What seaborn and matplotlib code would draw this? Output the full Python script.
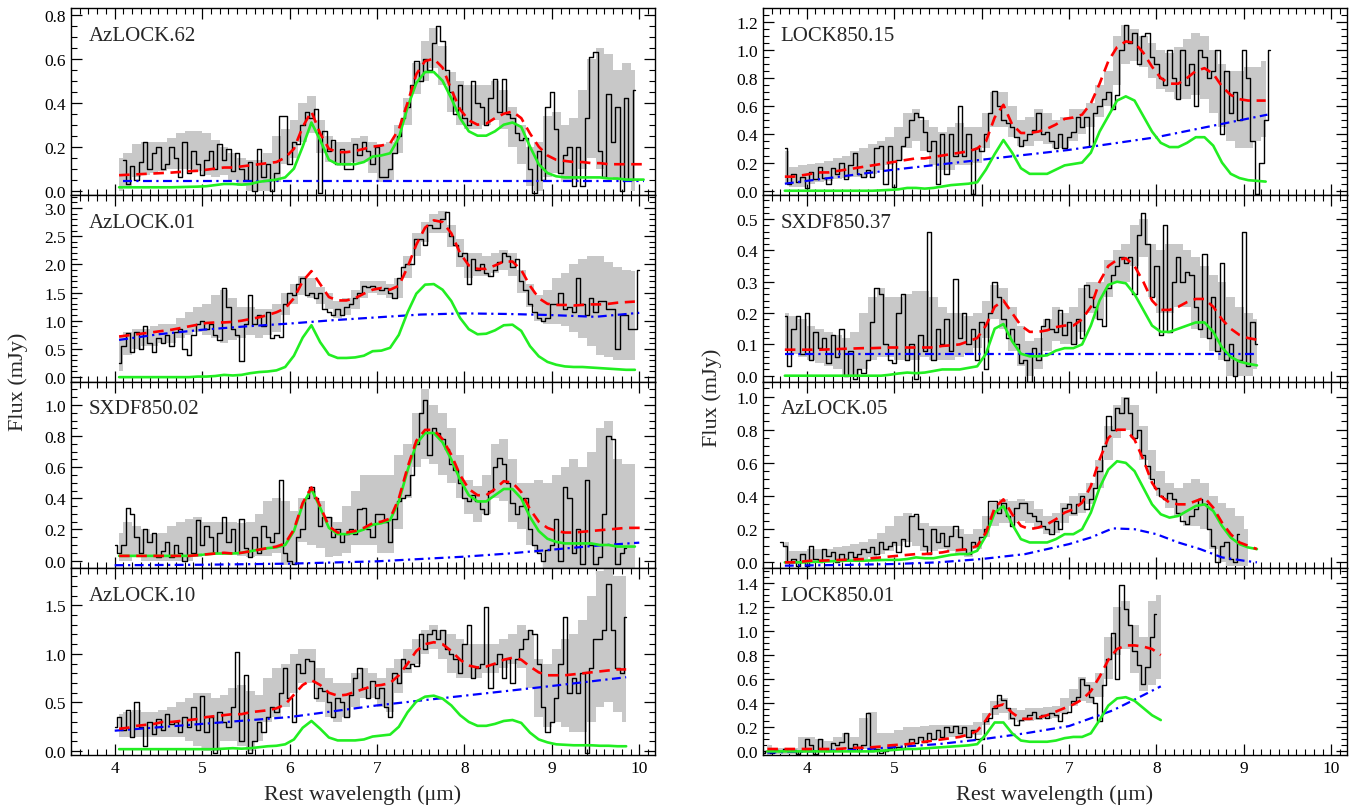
import numpy as np
import seaborn as sns
import matplotlib.pyplot as plt
from matplotlib.ticker import MultipleLocator, AutoMinorLocator, FormatStrFormatter

# ---- data (flux in mJy, wavelength in micron) ----
# spectra are binned at 0.05 um, band / model curves sampled at 0.1 um

# AzLOCK.62
az62_start = 4.10
az62_flux = [0.14, 0.03, 0.11, 0.05, 0.13, 0.22, 0.10, 0.17, 0.20, 0.10,
             0.12, 0.20, 0.15, 0.06, 0.22, 0.08, 0.18, 0.12, 0.07, 0.14,
             0.18, 0.10, 0.21, 0.14, 0.19, 0.09, 0.17, 0.10, 0.05, 0.13,
             0.00, 0.19, 0.06, 0.12, 0.00, 0.08, 0.34, 0.34, 0.12, 0.22,
             0.21, 0.30, 0.36, 0.33, 0.37, -0.01, 0.27, 0.18, 0.23, 0.12,
             0.19, 0.10, 0.10, 0.21, 0.16, 0.22, 0.18, 0.12, 0.20, 0.06,
             0.06, 0.10, 0.17, 0.25, 0.33, 0.38, 0.48, 0.59, 0.50, 0.60,
             0.55, 0.67, 0.75, 0.68, 0.55, 0.45, 0.35, 0.48, 0.33, 0.30,
             0.50, 0.40, 0.38, 0.30, 0.42, 0.51, 0.36, 0.51, 0.35, 0.33,
             0.26, 0.23, 0.24, 0.10, -0.01, 0.18, 0.05, 0.38, 0.45, 0.28,
             0.08, 0.16, 0.20, 0.02, 0.20, 0.02, 0.33, 0.61, 0.63, 0.18,
             0.06, 0.44, 0.22, 0.38, 0.00, 0.42, 0.05, 0.46]
az62_mstart = 4.05
az62_band = [(0.00, 0.15), (0.02, 0.17), (0.06, 0.21), (0.07, 0.22), (0.08, 0.22), (0.09, 0.22), (0.10, 0.24), (0.10, 0.26), (0.10, 0.27), (0.09, 0.27),
             (0.07, 0.26), (0.06, 0.23), (0.07, 0.20), (0.05, 0.17), (0.02, 0.15), (0.00, 0.14), (0.00, 0.14), (0.00, 0.17), (0.04, 0.25), (0.12, 0.28),
             (0.15, 0.32), (0.22, 0.40), (0.26, 0.43), (0.17, 0.32), (0.13, 0.25), (0.12, 0.22), (0.11, 0.22), (0.13, 0.24), (0.13, 0.25), (0.08, 0.22),
             (0.04, 0.21), (0.05, 0.22), (0.17, 0.30), (0.30, 0.42), (0.44, 0.58), (0.50, 0.68), (0.56, 0.74), (0.48, 0.66), (0.36, 0.54), (0.30, 0.50),
             (0.28, 0.48), (0.28, 0.48), (0.30, 0.48), (0.32, 0.50), (0.28, 0.46), (0.20, 0.38), (0.12, 0.30), (0.02, 0.20), (0.00, 0.22), (0.06, 0.34),
             (0.08, 0.36), (0.04, 0.30), (0.05, 0.33), (0.10, 0.46), (0.15, 0.60), (0.10, 0.65), (0.06, 0.62), (0.05, 0.55), (0.04, 0.58), (0.00, 0.55)]
az62_total = [0.07, 0.072, 0.074, 0.076, 0.078, 0.08, 0.082, 0.085, 0.088, 0.09,
              0.095, 0.10, 0.105, 0.105, 0.11, 0.115, 0.12, 0.125, 0.13, 0.15,
              0.19, 0.29, 0.36, 0.26, 0.19, 0.175, 0.175, 0.18, 0.19, 0.20,
              0.205, 0.215, 0.28, 0.40, 0.53, 0.59, 0.60, 0.56, 0.46, 0.37,
              0.32, 0.30, 0.305, 0.33, 0.35, 0.36, 0.33, 0.26, 0.20, 0.16,
              0.14, 0.135, 0.13, 0.13, 0.125, 0.125, 0.12, 0.12, 0.12, 0.12, 0.12]
az62_pah = [0.015, 0.015, 0.015, 0.015, 0.015, 0.015, 0.015, 0.016, 0.017, 0.018,
            0.02, 0.025, 0.03, 0.03, 0.027, 0.03, 0.04, 0.045, 0.05, 0.06,
            0.10, 0.20, 0.31, 0.23, 0.14, 0.12, 0.12, 0.12, 0.13, 0.155,
            0.16, 0.17, 0.24, 0.38, 0.49, 0.54, 0.54, 0.50, 0.42, 0.33,
            0.27, 0.25, 0.25, 0.27, 0.30, 0.31, 0.29, 0.20, 0.12, 0.08,
            0.065, 0.06, 0.06, 0.06, 0.06, 0.06, 0.055, 0.055, 0.05, 0.05, 0.05]
az62_cont_wave = [4.1, 10.05]
az62_cont = [0.045, 0.045]

# AzLOCK.01
az01_start = 4.05
az01_flux = [0.25, 0.55, 0.78, 0.45, 0.80, 0.50, 0.90, 0.60, 0.45, 0.70,
             0.60, 0.75, 0.55, 0.80, 0.85, 0.50, 0.40, 0.75, 0.95, 1.00,
             0.85, 0.95, 0.75, 0.65, 1.58, 1.25, 0.85, 0.75, 0.28, 0.95,
             1.45, 0.95, 1.10, 0.90, 1.15, 0.70, 0.75, 0.72, 1.30, 1.50,
             1.45, 1.65, 1.75, 1.45, 1.50, 1.40, 1.50, 1.20, 1.15, 1.10,
             1.20, 1.10, 1.25, 1.30, 1.40, 1.50, 1.62, 1.60, 1.62, 1.58,
             1.55, 1.58, 1.50, 1.40, 1.75, 1.95, 2.00, 2.00, 2.45, 2.45,
             2.35, 2.70, 2.65, 2.65, 2.80, 2.92, 2.50, 2.35, 2.15, 2.20,
             1.65, 2.10, 1.90, 2.00, 1.85, 1.80, 1.90, 2.05, 2.20, 2.15,
             1.95, 2.10, 1.70, 1.55, 1.30, 1.15, 1.05, 1.00, 1.05, 1.30,
             1.30, 1.50, 1.20, 1.25, 1.15, 1.75, 1.30, 1.10, 1.40, 1.15,
             1.35, 1.35, 1.20, 1.20, 0.50, 1.10, 1.10, 0.85, 0.85, 1.90]
az01_mstart = 4.05
az01_band = [(0.10, 0.75), (0.40, 0.80), (0.50, 0.85), (0.55, 0.85), (0.55, 0.90), (0.60, 0.95), (0.60, 0.95), (0.70, 1.05), (0.75, 1.15), (0.80, 1.25),
             (0.75, 1.30), (0.70, 1.45), (0.60, 1.55), (0.65, 1.40), (0.70, 1.25), (0.75, 1.25), (0.70, 1.20), (0.75, 1.20), (0.80, 1.30), (1.10, 1.50),
             (1.30, 1.65), (1.45, 1.80), (1.40, 1.75), (1.30, 1.60), (1.20, 1.50), (1.05, 1.35), (1.10, 1.40), (1.20, 1.55), (1.40, 1.70), (1.50, 1.70),
             (1.45, 1.70), (1.40, 1.65), (1.40, 1.75), (1.75, 2.15), (2.15, 2.55), (2.40, 2.75), (2.55, 2.90), (2.55, 2.95), (2.30, 2.70), (1.95, 2.45),
             (1.75, 2.20), (1.80, 2.20), (1.80, 2.15), (1.85, 2.20), (1.90, 2.25), (1.80, 2.20), (1.50, 1.90), (1.25, 1.65), (1.00, 1.45), (0.95, 1.55),
             (0.95, 1.75), (0.90, 1.85), (0.80, 2.00), (0.70, 2.10), (0.55, 2.15), (0.40, 2.15), (0.35, 2.05), (0.30, 1.95), (0.30, 1.90), (0.30, 1.88)]
az01_total = [0.72, 0.74, 0.76, 0.78, 0.80, 0.82, 0.84, 0.87, 0.90, 0.93,
              0.96, 0.97, 0.97, 0.98, 1.00, 1.03, 1.06, 1.10, 1.15, 1.22,
              1.40, 1.70, 1.88, 1.65, 1.42, 1.36, 1.36, 1.40, 1.48, 1.55,
              1.58, 1.55, 1.62, 1.95, 2.35, 2.65, 2.78, 2.75, 2.55, 2.20,
              1.98, 1.92, 1.92, 1.98, 2.05, 2.05, 1.90, 1.62, 1.40, 1.30,
              1.28, 1.28, 1.27, 1.28, 1.29, 1.29, 1.30, 1.32, 1.33, 1.34]
az01_pah = [0.00, 0.00, 0.00, 0.00, 0.00, 0.00, 0.00, 0.00, 0.00, 0.01,
            0.01, 0.02, 0.04, 0.03, 0.04, 0.07, 0.09, 0.10, 0.12, 0.18,
            0.38, 0.70, 0.92, 0.62, 0.40, 0.34, 0.34, 0.35, 0.38, 0.46,
            0.47, 0.52, 0.75, 1.15, 1.48, 1.64, 1.65, 1.55, 1.35, 1.05,
            0.85, 0.76, 0.77, 0.83, 0.92, 0.93, 0.82, 0.55, 0.37, 0.27,
            0.22, 0.19, 0.18, 0.18, 0.17, 0.16, 0.15, 0.14, 0.13, 0.13]
az01_cont_wave = [4.05, 4.5, 5.0, 5.5, 6.0, 6.5, 7.0, 7.5, 8.0, 8.5, 9.0, 9.5, 10.0]
az01_cont = [0.66, 0.76, 0.84, 0.90, 0.95, 1.01, 1.06, 1.11, 1.13, 1.12, 1.10, 1.07, 1.14]

# SXDF850.02
sx02_start = 4.00
sx02_flux = [0.10, 0.05, 0.10, 0.34, 0.30, 0.15, 0.05, 0.20, 0.12, 0.18,
             0.02, 0.06, 0.12, 0.02, 0.10, 0.05, 0.00, 0.15, 0.05, 0.26,
             0.10, 0.22, 0.15, 0.05, 0.18, 0.28, 0.12, 0.20, 0.05, 0.27,
             0.08, 0.02, 0.15, 0.05, 0.22, 0.15, 0.12, 0.18, 0.52, 0.05,
             0.00, -0.02, 0.15, 0.20, 0.40, 0.47, 0.40, 0.22, 0.28, 0.28,
             0.15, 0.20, 0.12, 0.17, 0.20, 0.17, 0.33, 0.34, 0.20, 0.15,
             0.30, 0.30, 0.25, 0.12, 0.27, 0.38, 0.40, 0.42, 0.55, 0.75,
             0.95, 1.03, 0.68, 0.85, 0.82, 0.78, 0.72, 0.62, 0.58, 0.50,
             0.40, 0.38, 0.42, 0.38, 0.33, 0.30, 0.45, 0.60, 0.66, 0.62,
             0.50, 0.37, 0.30, 0.35, 0.40, 0.20, 0.10, 0.05, 0.00, 0.07,
             0.10, 0.27, 0.00, 0.47, 0.40, 0.05, 0.20, -0.02, 0.52, 0.10,
             -0.02, 0.02, 0.30, 0.80, 0.78, -0.02, 0.05, 0.08]
sx02_mstart = 4.05
sx02_band = [(0.00, 0.18), (0.00, 0.25), (0.02, 0.22), (0.00, 0.20), (0.00, 0.17), (0.00, 0.18), (0.00, 0.22), (0.00, 0.25), (0.00, 0.27), (0.02, 0.28),
             (0.05, 0.25), (0.05, 0.25), (0.05, 0.25), (0.05, 0.25), (0.03, 0.24), (0.02, 0.25), (0.03, 0.30), (0.03, 0.38), (0.05, 0.40), (-0.03, 0.38),
             (-0.03, 0.32), (0.12, 0.40), (0.10, 0.45), (0.08, 0.38), (0.02, 0.28), (0.03, 0.25), (0.05, 0.35), (0.10, 0.45), (0.10, 0.55), (0.10, 0.55),
             (0.05, 0.55), (0.05, 0.55), (0.20, 0.68), (0.40, 0.75), (0.60, 0.95), (0.65, 1.10), (0.62, 1.00), (0.55, 0.95), (0.50, 0.85), (0.40, 0.68),
             (0.30, 0.52), (0.25, 0.48), (0.30, 0.55), (0.40, 0.75), (0.38, 0.78), (0.25, 0.65), (0.20, 0.50), (0.10, 0.50), (0.05, 0.52), (-0.06, 0.50),
             (-0.06, 0.55), (-0.06, 0.60), (-0.06, 0.65), (-0.06, 0.60), (-0.06, 0.70), (-0.06, 0.85), (-0.06, 0.90), (-0.06, 0.65), (-0.06, 0.62), (-0.06, 0.62)]
sx02_total = [0.03, 0.03, 0.03, 0.03, 0.03, 0.03, 0.03, 0.03, 0.03, 0.035,
              0.04, 0.045, 0.05, 0.045, 0.05, 0.06, 0.07, 0.08, 0.09, 0.11,
              0.20, 0.37, 0.47, 0.35, 0.22, 0.18, 0.18, 0.19, 0.21, 0.24,
              0.25, 0.27, 0.40, 0.60, 0.77, 0.84, 0.84, 0.78, 0.68, 0.55,
              0.46, 0.42, 0.42, 0.46, 0.51, 0.50, 0.44, 0.33, 0.25, 0.21,
              0.19, 0.18, 0.18, 0.185, 0.19, 0.195, 0.20, 0.205, 0.21, 0.21, 0.21]
sx02_pah = [0.03, 0.03, 0.03, 0.03, 0.03, 0.03, 0.03, 0.03, 0.03, 0.035,
            0.04, 0.045, 0.045, 0.045, 0.05, 0.06, 0.07, 0.08, 0.085, 0.10,
            0.19, 0.36, 0.46, 0.34, 0.21, 0.17, 0.17, 0.18, 0.20, 0.23,
            0.24, 0.26, 0.38, 0.58, 0.75, 0.82, 0.82, 0.76, 0.65, 0.52,
            0.42, 0.38, 0.38, 0.42, 0.46, 0.46, 0.40, 0.28, 0.19, 0.14,
            0.12, 0.11, 0.11, 0.11, 0.11, 0.10, 0.10, 0.09, 0.09, 0.09]
sx02_cont_wave = [4.0, 5.0, 6.0, 7.0, 8.0, 8.5, 9.0, 9.5, 10.0]
sx02_cont = [-0.03, -0.027, -0.02, -0.005, 0.025, 0.045, 0.07, 0.095, 0.115]

# AzLOCK.10
az10_start = 4.00
az10_flux = [0.25, 0.35, 0.22, 0.42, 0.15, 0.50, 0.25, 0.05, 0.30, 0.18,
             0.33, 0.22, 0.38, 0.28, 0.30, 0.20, 0.35, 0.25, 0.45, 0.22,
             0.57, 0.20, 0.35, -0.02, 0.40, 0.30, 0.25, 0.45, 1.02, 0.10,
             0.78, -0.02, 0.10, 0.30, 0.20, 0.35, 0.45, 0.40, 0.60, 0.85,
             0.55, 0.30, 0.90, 0.80, 0.95, 0.93, 0.55, 0.65, 0.62, 0.50,
             0.35, 0.55, 0.50, 0.35, 0.58, 0.75, 0.85, 0.65, 0.55, 0.72,
             0.55, 0.65, 0.45, 0.35, 0.80, 0.70, 0.95, 0.85, 0.90, 0.88,
             1.20, 1.05, 1.20, 1.25, 1.15, 1.25, 1.05, 1.00, 0.95, 0.80,
             1.10, 1.30, 0.75, 0.85, 0.90, 1.48, 0.65, 0.90, 1.00, 0.75,
             0.95, 0.70, 0.95, 1.05, 1.15, 1.25, 1.20, 0.90, 0.45, 0.20,
             0.30, 0.55, 0.90, 1.38, 0.60, 0.75, 0.60, 0.80, -0.02, 0.85,
             1.15, 1.15, 1.25, 1.72, 1.25, 0.85, 0.80, 1.38]
az10_mstart = 4.05
az10_band = [(0.15, 0.38), (0.15, 0.40), (0.15, 0.42), (0.15, 0.40), (0.15, 0.40), (0.15, 0.42), (0.15, 0.45), (0.15, 0.50), (0.10, 0.55), (0.05, 0.60),
             (0.00, 0.60), (0.00, 0.55), (0.10, 0.58), (0.10, 0.65), (0.05, 0.68), (0.00, 0.62), (0.10, 0.58), (0.30, 0.75), (0.35, 0.85), (0.45, 0.90),
             (0.60, 1.00), (0.70, 1.05), (0.70, 1.05), (0.50, 0.85), (0.35, 0.75), (0.30, 0.70), (0.35, 0.70), (0.45, 0.80), (0.55, 0.85), (0.55, 0.80),
             (0.45, 0.75), (0.40, 0.85), (0.60, 0.95), (0.80, 1.05), (0.90, 1.15), (1.00, 1.25), (1.05, 1.30), (0.95, 1.25), (0.80, 1.20), (0.75, 1.15),
             (0.75, 1.10), (0.75, 1.10), (0.80, 1.10), (0.80, 1.10), (0.85, 1.15), (0.90, 1.20), (0.85, 1.30), (0.65, 1.25), (0.35, 0.95), (0.25, 0.90),
             (0.30, 1.05), (0.25, 1.15), (0.20, 1.20), (0.20, 1.35), (0.30, 1.60), (0.45, 1.85), (0.50, 1.90), (0.40, 1.80), (0.30, 1.80)]
az10_total = [0.23, 0.24, 0.26, 0.27, 0.28, 0.30, 0.30, 0.31, 0.32, 0.33,
              0.35, 0.36, 0.37, 0.38, 0.38, 0.40, 0.41, 0.42, 0.44, 0.48,
              0.58, 0.68, 0.73, 0.68, 0.60, 0.57, 0.58, 0.61, 0.64, 0.67,
              0.68, 0.70, 0.78, 0.90, 1.03, 1.10, 1.12, 1.10, 1.03, 0.94,
              0.88, 0.86, 0.87, 0.90, 0.94, 0.96, 0.94, 0.87, 0.81, 0.78,
              0.78, 0.78, 0.79, 0.80, 0.81, 0.82, 0.83, 0.84, 0.84]
az10_pah = [0.02, 0.02, 0.02, 0.02, 0.02, 0.02, 0.02, 0.02, 0.02, 0.02,
            0.02, 0.02, 0.025, 0.03, 0.025, 0.03, 0.04, 0.05, 0.055, 0.07,
            0.12, 0.24, 0.31, 0.23, 0.14, 0.11, 0.11, 0.11, 0.12, 0.15,
            0.16, 0.17, 0.25, 0.40, 0.51, 0.56, 0.57, 0.54, 0.47, 0.37,
            0.30, 0.26, 0.26, 0.28, 0.31, 0.32, 0.29, 0.19, 0.12, 0.09,
            0.07, 0.065, 0.06, 0.06, 0.06, 0.055, 0.055, 0.05, 0.05]
az10_cont_wave = [4.0, 5.0, 6.0, 7.0, 8.0, 9.0, 9.85]
az10_cont = [0.21, 0.28, 0.35, 0.47, 0.57, 0.67, 0.76]

# LOCK850.15
l15_start = 3.75
l15_flux = [0.30, 0.05, 0.12, 0.06, 0.10, 0.02, 0.13, 0.08, 0.17, 0.09,
            0.05, 0.16, 0.12, 0.20, 0.08, 0.18, 0.27, 0.12, 0.10, 0.15,
            0.10, 0.30, 0.32, 0.05, 0.32, 0.03, 0.22, 0.32, 0.38, 0.50,
            0.55, 0.52, 0.42, 0.28, 0.35, 0.05, 0.40, 0.12, 0.40, 0.25,
            0.60, 0.25, 0.40, -0.02, 0.30, 0.28, 0.40, 0.55, 0.71, 0.60,
            0.50, 0.48, 0.45, 0.38, 0.32, 0.36, 0.40, 0.43, 0.55, 0.40,
            0.42, 0.35, 0.30, 0.40, 0.30, 0.38, 0.42, 0.52, 0.45, 0.52,
            0.32, 0.55, 0.60, 0.65, 0.70, 0.58, 0.68, 1.00, 1.18, 1.05,
            1.12, 0.90, 1.10, 1.12, 0.95, 0.90, 0.80, 0.75, 1.00, 0.80,
            0.65, 1.00, 0.75, 0.90, 0.60, 1.00, 0.95, 0.80, 0.85, 1.00,
            0.40, 0.85, 0.55, 0.70, 0.50, 1.00, 0.80, 0.35, -0.02, 0.20,
            0.50, 1.00]
l15_mstart = 3.75
l15_band = [(0.05, 0.28), (0.03, 0.17), (0.03, 0.18), (0.05, 0.19), (0.06, 0.20), (0.07, 0.21), (0.08, 0.23), (0.09, 0.25), (0.10, 0.28), (0.10, 0.30),
            (0.12, 0.33), (0.15, 0.35), (0.18, 0.38), (0.22, 0.45), (0.30, 0.55), (0.35, 0.58), (0.28, 0.50), (0.18, 0.45), (0.15, 0.42), (0.15, 0.45),
            (0.18, 0.48), (0.18, 0.45), (0.20, 0.45), (0.30, 0.55), (0.45, 0.70), (0.45, 0.70), (0.38, 0.60), (0.32, 0.50), (0.32, 0.52), (0.35, 0.58),
            (0.33, 0.55), (0.30, 0.50), (0.30, 0.52), (0.35, 0.58), (0.40, 0.58), (0.45, 0.62), (0.52, 0.75), (0.60, 0.85), (0.75, 1.10), (0.90, 1.18),
            (0.92, 1.15), (0.88, 1.10), (0.80, 1.05), (0.72, 1.00), (0.70, 0.98), (0.65, 1.02), (0.65, 1.08), (0.68, 1.12), (0.65, 1.10), (0.55, 1.00),
            (0.45, 0.90), (0.35, 0.85), (0.30, 0.85), (0.30, 0.88), (0.35, 0.88), (0.38, 0.92)]
l15_total = [0.10, 0.10, 0.11, 0.12, 0.13, 0.13, 0.14, 0.15, 0.16, 0.17,
             0.18, 0.19, 0.20, 0.21, 0.22, 0.23, 0.23, 0.24, 0.25, 0.26,
             0.27, 0.28, 0.30, 0.35, 0.52, 0.61, 0.47, 0.41, 0.41, 0.42,
             0.44, 0.47, 0.51, 0.52, 0.54, 0.62, 0.76, 0.92, 1.02, 1.06,
             1.05, 0.98, 0.88, 0.80, 0.76, 0.76, 0.80, 0.85, 0.87, 0.83,
             0.74, 0.68, 0.65, 0.64, 0.64, 0.64]
l15_pah = [0.0, 0.0, 0.0, 0.0, 0.0, 0.0, 0.0, 0.0, 0.0, 0.0,
           0.0, 0.003, 0.006, 0.01, 0.02, 0.02, 0.015, 0.02, 0.03, 0.04,
           0.045, 0.05, 0.06, 0.15, 0.26, 0.36, 0.27, 0.16, 0.12, 0.12,
           0.12, 0.15, 0.18, 0.19, 0.20, 0.27, 0.42, 0.53, 0.64, 0.67,
           0.64, 0.53, 0.42, 0.34, 0.31, 0.31, 0.34, 0.38, 0.38, 0.32,
           0.20, 0.12, 0.09, 0.075, 0.07, 0.065]
l15_cont_wave = [3.75, 5.0, 6.0, 7.0, 8.0, 9.27]
l15_cont = [0.05, 0.15, 0.22, 0.29, 0.38, 0.54]

# SXDF850.37
sx37_start = 3.75
sx37_flux = [0.19, 0.03, 0.15, 0.19, 0.07, 0.20, 0.05, 0.14, 0.09, 0.12,
             0.04, 0.13, 0.06, 0.15, 0.00, 0.08, -0.01, 0.02, 0.01, 0.05,
             0.17, 0.28, 0.26, 0.10, 0.05, 0.04, 0.20, 0.26, 0.05, 0.10,
             -0.01, 0.13, 0.08, 0.46, 0.05, 0.15, 0.10, 0.18, 0.08, 0.31,
             0.12, 0.20, 0.10, 0.15, 0.05, 0.17, 0.02, 0.20, 0.30, 0.25,
             0.18, 0.12, 0.15, 0.10, 0.04, 0.05, -0.02, 0.09, 0.05, 0.16,
             0.18, 0.15, 0.14, 0.21, 0.13, 0.17, 0.10, 0.18, 0.12, 0.29,
             0.25, 0.22, 0.18, 0.16, 0.28, 0.32, 0.35, 0.38, 0.36, 0.38,
             0.26, 0.45, 0.52, 0.42, 0.25, 0.35, 0.13, 0.48, 0.14, 0.30,
             0.38, 0.30, 0.33, 0.32, 0.22, 0.15, 0.39, 0.12, 0.25, 0.08,
             0.36, 0.05, 0.10, 0.00, 0.05, 0.46, 0.03, 0.17, 0.10]
sx37_mstart = 3.75
sx37_band = [(0.08, 0.20), (0.07, 0.19), (0.06, 0.18), (0.05, 0.16), (0.04, 0.15), (0.03, 0.14), (0.02, 0.13), (0.00, 0.12), (0.00, 0.14), (0.02, 0.20),
             (0.05, 0.25), (0.06, 0.28), (0.06, 0.25), (0.05, 0.25), (0.05, 0.26), (0.05, 0.27), (0.06, 0.27), (0.05, 0.25), (0.05, 0.22), (0.05, 0.20),
             (0.06, 0.20), (0.07, 0.19), (0.09, 0.20), (0.12, 0.24), (0.18, 0.29), (0.15, 0.28), (0.08, 0.22), (0.03, 0.16), (0.00, 0.11), (0.02, 0.12),
             (0.08, 0.18), (0.11, 0.22), (0.10, 0.20), (0.10, 0.22), (0.14, 0.28), (0.20, 0.30), (0.18, 0.30), (0.25, 0.37), (0.30, 0.40), (0.30, 0.42),
             (0.35, 0.48), (0.38, 0.50), (0.25, 0.42), (0.20, 0.40), (0.20, 0.42), (0.22, 0.42), (0.22, 0.40), (0.15, 0.38), (0.12, 0.35), (0.08, 0.32),
             (0.05, 0.30), (0.00, 0.25), (0.00, 0.22), (0.00, 0.20), (0.02, 0.18)]
sx37_total = [0.083, 0.083, 0.083, 0.083, 0.083, 0.084, 0.085, 0.086, 0.087, 0.088,
              0.088, 0.089, 0.09, 0.09, 0.09, 0.09, 0.09, 0.09, 0.095, 0.097,
              0.10, 0.11, 0.12, 0.16, 0.22, 0.24, 0.20, 0.16, 0.14, 0.14,
              0.145, 0.155, 0.16, 0.16, 0.18, 0.22, 0.30, 0.35, 0.37, 0.375,
              0.35, 0.30, 0.24, 0.21, 0.21, 0.22, 0.235, 0.245, 0.245, 0.22,
              0.18, 0.15, 0.13, 0.12, 0.115]
sx37_pah = [0.0, 0.0, 0.0, 0.0, 0.0, 0.0, 0.0, 0.0, 0.0, 0.0,
            0.0, 0.0, 0.003, 0.007, 0.01, 0.008, 0.01, 0.015, 0.02, 0.02,
            0.02, 0.025, 0.03, 0.07, 0.15, 0.165, 0.11, 0.07, 0.062, 0.062,
            0.065, 0.08, 0.088, 0.088, 0.10, 0.16, 0.24, 0.29, 0.30, 0.295,
            0.26, 0.21, 0.16, 0.14, 0.14, 0.15, 0.16, 0.17, 0.17, 0.14,
            0.09, 0.06, 0.045, 0.038, 0.033]
sx37_cont_wave = [3.75, 9.15]
sx37_cont = [0.07, 0.07]

# AzLOCK.05
az05_start = 3.70
az05_flux = [0.12, 0.10, 0.00, 0.02, -0.02, 0.05, -0.02, 0.10, 0.02, 0.00,
             0.08, 0.04, 0.06, 0.00, 0.05, 0.02, 0.06, 0.03, 0.05, 0.08,
             0.06, 0.09, 0.05, 0.12, 0.08, 0.10, 0.12, 0.06, 0.14, 0.10,
             0.28, 0.29, 0.20, 0.10, 0.05, 0.20, 0.12, 0.18, 0.10, 0.16,
             0.22, 0.15, 0.08, 0.05, 0.12, 0.10, 0.15, 0.20, 0.37, 0.37,
             0.30, 0.36, 0.28, 0.22, 0.33, 0.36, 0.36, 0.30, 0.28, 0.25,
             0.22, 0.20, 0.17, 0.25, 0.20, 0.33, 0.35, 0.30, 0.35, 0.40,
             0.32, 0.38, 0.45, 0.55, 0.70, 0.88, 0.80, 0.93, 0.90, 0.99,
             0.90, 0.75, 0.80, 0.65, 0.58, 0.50, 0.45, 0.40, 0.38, 0.42,
             0.38, 0.30, 0.25, 0.23, 0.28, 0.32, 0.38, 0.35, 0.20, 0.10,
             0.00, 0.10, 0.12, 0.02, 0.00, 0.17]
az05_mstart = 3.75
az05_band = [(0.00, 0.12), (-0.01, 0.07), (-0.01, 0.07), (0.00, 0.08), (0.00, 0.08), (0.00, 0.08), (0.00, 0.09), (0.00, 0.10), (0.01, 0.11), (0.02, 0.12),
             (0.03, 0.14), (0.05, 0.18), (0.07, 0.22), (0.10, 0.28), (0.12, 0.30), (0.10, 0.28), (0.07, 0.24), (0.07, 0.22), (0.08, 0.22), (0.07, 0.22),
             (0.05, 0.20), (0.03, 0.17), (0.08, 0.20), (0.15, 0.28), (0.22, 0.36), (0.24, 0.38), (0.24, 0.37), (0.25, 0.38), (0.24, 0.37), (0.20, 0.32),
             (0.17, 0.28), (0.18, 0.30), (0.24, 0.36), (0.28, 0.40), (0.30, 0.42), (0.35, 0.48), (0.45, 0.62), (0.62, 0.82), (0.75, 0.95), (0.80, 1.00),
             (0.75, 0.95), (0.62, 0.82), (0.50, 0.68), (0.40, 0.55), (0.33, 0.48), (0.28, 0.45), (0.22, 0.48), (0.22, 0.50), (0.20, 0.48), (0.08, 0.40),
             (0.00, 0.36), (-0.02, 0.33), (-0.02, 0.28), (-0.02, 0.20)]
az05_total = [0.0, 0.0, 0.005, 0.01, 0.01, 0.012, 0.014, 0.016, 0.018, 0.02,
              0.025, 0.03, 0.035, 0.04, 0.045, 0.05, 0.05, 0.055, 0.06, 0.07,
              0.075, 0.08, 0.10, 0.18, 0.33, 0.38, 0.29, 0.22, 0.20, 0.21,
              0.23, 0.26, 0.30, 0.32, 0.36, 0.46, 0.62, 0.75, 0.80, 0.80,
              0.74, 0.62, 0.48, 0.40, 0.36, 0.35, 0.35, 0.37, 0.39, 0.33,
              0.24, 0.17, 0.12, 0.10, 0.08]
az05_pah = [0.0, 0.0, 0.0, 0.002, 0.004, 0.006, 0.008, 0.01, 0.01, 0.01,
            0.012, 0.014, 0.015, 0.015, 0.02, 0.03, 0.025, 0.025, 0.035, 0.045,
            0.05, 0.05, 0.07, 0.16, 0.30, 0.34, 0.23, 0.14, 0.12, 0.12,
            0.12, 0.14, 0.17, 0.17, 0.20, 0.30, 0.45, 0.56, 0.61, 0.60,
            0.55, 0.45, 0.35, 0.29, 0.27, 0.28, 0.31, 0.34, 0.35, 0.31,
            0.22, 0.15, 0.11, 0.09, 0.08]
az05_cont_wave = [3.75, 4.5, 5.0, 5.5, 6.0, 6.5, 7.0, 7.25, 7.5, 7.75, 8.0, 8.25, 8.5, 8.75, 9.0, 9.15]
az05_cont = [-0.02, -0.015, -0.01, 0.0, 0.02, 0.05, 0.11, 0.15, 0.205, 0.20, 0.17, 0.12, 0.08, 0.03, 0.01, 0.0]

# LOCK850.01
l01_start = 3.50
l01_flux = [-0.01, 0.00, -0.01, 0.01, 0.00, 0.02, 0.00, 0.01, -0.02, 0.00,
            0.10, 0.05, -0.02, 0.10, 0.02, 0.00, 0.07, 0.05, 0.08, 0.15,
            0.03, 0.06, 0.00, 0.05, 0.32, 0.00, 0.02, -0.01, 0.00, 0.03,
            0.02, 0.04, 0.03, 0.06, 0.10, 0.07, 0.12, 0.08, 0.15, 0.10,
            0.18, 0.12, 0.20, 0.16, 0.21, 0.15, 0.20, 0.12, 0.18, 0.10,
            0.10, 0.25, 0.28, 0.36, 0.47, 0.43, 0.36, 0.28, 0.22, 0.26,
            0.28, 0.30, 0.33, 0.28, 0.30, 0.28, 0.32, 0.30, 0.25, 0.32,
            0.33, 0.42, 0.45, 0.60, 0.55, 0.45, 0.40, 0.25, 0.55, 0.77,
            0.98, 0.60, 1.38, 1.18, 1.05, 0.83, 0.72, 0.56, 0.70, 0.95,
            1.14]
l01_mstart = 3.55
l01_band = [(-0.03, 0.05), (-0.02, 0.03), (-0.02, 0.03), (-0.02, 0.03), (0.00, 0.12), (0.00, 0.12), (0.00, 0.10), (0.00, 0.09), (0.02, 0.12), (0.02, 0.15),
            (0.00, 0.12), (0.02, 0.28), (0.00, 0.33), (0.00, 0.15), (0.02, 0.15), (0.03, 0.18), (0.05, 0.20), (0.07, 0.20), (0.09, 0.21), (0.10, 0.22),
            (0.11, 0.22), (0.12, 0.22), (0.12, 0.22), (0.12, 0.22), (0.14, 0.24), (0.22, 0.32), (0.30, 0.42), (0.32, 0.44), (0.26, 0.36), (0.24, 0.34),
            (0.25, 0.36), (0.26, 0.36), (0.27, 0.37), (0.28, 0.38), (0.32, 0.44), (0.38, 0.52), (0.42, 0.62), (0.40, 0.58), (0.45, 0.65), (0.60, 0.95),
            (0.80, 1.20), (0.85, 1.25), (0.65, 1.05), (0.50, 0.95), (0.55, 1.25), (0.60, 1.30)]
l01_total = [0.02, 0.02, 0.02, 0.02, 0.02, 0.02, 0.02, 0.02, 0.02, 0.025,
             0.03, 0.03, 0.035, 0.04, 0.05, 0.055, 0.06, 0.07, 0.08, 0.09,
             0.10, 0.11, 0.12, 0.14, 0.17, 0.26, 0.37, 0.39, 0.32, 0.27,
             0.27, 0.28, 0.30, 0.33, 0.36, 0.39, 0.43, 0.50, 0.62, 0.76,
             0.85, 0.88, 0.88, 0.87, 0.85, 0.80]
l01_pah = [0.0, 0.0, 0.0, 0.0, 0.0, 0.0, 0.0, 0.0, 0.0, 0.0,
           0.0, 0.0, 0.0, 0.005, 0.01, 0.015, 0.02, 0.02, 0.025, 0.03,
           0.035, 0.04, 0.045, 0.05, 0.06, 0.14, 0.24, 0.24, 0.15, 0.09,
           0.08, 0.08, 0.08, 0.09, 0.11, 0.12, 0.12, 0.15, 0.26, 0.38,
           0.44, 0.45, 0.42, 0.36, 0.30, 0.26]
l01_cont_wave = [3.55, 4.5, 5.0, 5.5, 6.0, 6.5, 7.0, 7.5, 7.75, 8.05]
l01_cont = [-0.01, 0.01, 0.035, 0.06, 0.10, 0.15, 0.21, 0.34, 0.43, 0.54]

# ---- style ----
sns.set_style('ticks')
plt.rcParams['font.family'] = ['Liberation Serif', 'DejaVu Serif']
plt.rcParams['axes.linewidth'] = 1.0

fig = plt.figure(figsize=(13.51, 8.12), dpi=100)
W, H = 1351.0, 812.0
top_px, bot_px = 9.3, 756.0
ph = (bot_px - top_px) / 4.0
col_x = [(71, 655), (763, 1347)]

panels = [
    # column, row, name, data..., ylim, major step, n minor
    (0, 0, 'AzLOCK.62', az62_start, az62_flux, az62_mstart, az62_band, az62_total, az62_pah, az62_cont_wave, az62_cont, (-0.02, 0.83), 0.2, 4),
    (0, 1, 'AzLOCK.01', az01_start, az01_flux, az01_mstart, az01_band, az01_total, az01_pah, az01_cont_wave, az01_cont, (-0.08, 3.23), 0.5, 5),
    (0, 2, 'SXDF850.02', sx02_start, sx02_flux, sx02_mstart, sx02_band, sx02_total, sx02_pah, sx02_cont_wave, sx02_cont, (-0.05, 1.15), 0.2, 4),
    (0, 3, 'AzLOCK.10', az10_start, az10_flux, az10_mstart, az10_band, az10_total, az10_pah, az10_cont_wave, az10_cont, (-0.04, 1.88), 0.5, 5),
    (1, 0, 'LOCK850.15', l15_start, l15_flux, l15_mstart, l15_band, l15_total, l15_pah, l15_cont_wave, l15_cont, (-0.03, 1.295), 0.2, 4),
    (1, 1, 'SXDF850.37', sx37_start, sx37_flux, sx37_mstart, sx37_band, sx37_total, sx37_pah, sx37_cont_wave, sx37_cont, (-0.019, 0.577), 0.1, 5),
    (1, 2, 'AzLOCK.05', az05_start, az05_flux, az05_mstart, az05_band, az05_total, az05_pah, az05_cont_wave, az05_cont, (-0.036, 1.09), 0.2, 4),
    (1, 3, 'LOCK850.01', l01_start, l01_flux, l01_mstart, l01_band, l01_total, l01_pah, l01_cont_wave, l01_cont, (-0.03, 1.52), 0.2, 4),
]

for col, row, name, s0, flux, m0, band, total, pah, cw, cont, ylim, ystep, nminor in panels:
    x0, x1 = col_x[col]
    y_top = top_px + row * ph
    ax = fig.add_axes([x0 / W, 1 - (y_top + ph) / H, (x1 - x0) / W, ph / H])

    wave = s0 + 0.05 * np.arange(len(flux))
    bw = m0 + 0.1 * np.arange(len(band))
    lo, hi = np.array(band).T
    tw = m0 + 0.1 * np.arange(len(total))
    pw = m0 + 0.1 * np.arange(len(pah))

    ax.fill_between(bw, lo, hi, step='mid', color='#c8c8c8', lw=0, zorder=1)
    sns.lineplot(x=wave, y=np.array(flux), ax=ax, color='black', lw=1.0,
                 drawstyle='steps-mid', estimator=None, sort=False, zorder=2)
    sns.lineplot(x=np.array(cw), y=np.array(cont), ax=ax, color='#0000ff', lw=1.6,
                 linestyle=(0, (4, 2, 1, 2)), estimator=None, sort=False, zorder=3)
    sns.lineplot(x=pw, y=np.array(pah), ax=ax, color='#22ee22', lw=1.9,
                 estimator=None, sort=False, zorder=4)
    sns.lineplot(x=tw, y=np.array(total), ax=ax, color='#ff0000', lw=1.9,
                 linestyle=(0, (4, 2.5)), estimator=None, sort=False, zorder=5)

    ax.set_xlim(3.5, 10.18)
    ax.set_ylim(*ylim)
    ax.xaxis.set_major_locator(MultipleLocator(1))
    ax.xaxis.set_minor_locator(MultipleLocator(0.1))
    ax.yaxis.set_major_locator(MultipleLocator(ystep))
    ax.yaxis.set_minor_locator(AutoMinorLocator(nminor))
    ax.yaxis.set_major_formatter(FormatStrFormatter('%.1f'))
    ax.tick_params(which='both', direction='in', top=True, right=True, labelsize=12.5, colors='black')
    ax.tick_params(which='major', length=8, width=0.9)
    ax.tick_params(which='minor', length=4, width=0.8)
    ax.set_xlabel('')
    ax.set_ylabel('')
    if row < 3:
        ax.tick_params(labelbottom=False)
    else:
        ax.set_xlabel('Rest wavelength (\u03bcm)', fontsize=16, labelpad=6)
    for sp in ax.spines.values():
        sp.set_visible(True)
        sp.set_color('black')
    ax.text(0.03, 0.83, name, transform=ax.transAxes, fontsize=15, va='baseline', zorder=6)

fig.text(18 / W, 1 - 382 / H, 'Flux (mJy)', rotation=90, ha='center', va='center', fontsize=16)
fig.text(712 / W, 1 - 398 / H, 'Flux (mJy)', rotation=90, ha='center', va='center', fontsize=16)

fig.savefig('out.png', dpi=100)
